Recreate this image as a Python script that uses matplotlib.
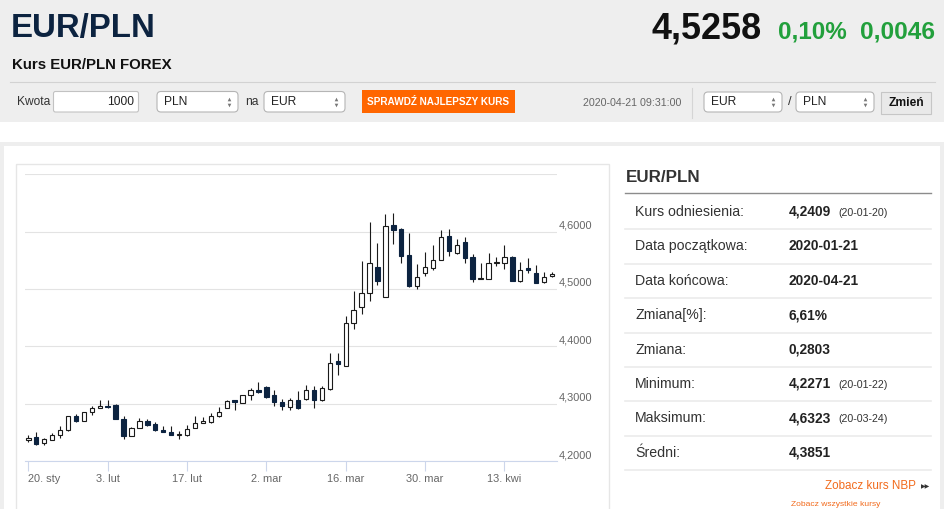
import matplotlib
matplotlib.use("Agg")
import matplotlib.pyplot as plt
import matplotlib.transforms as mtransforms
from matplotlib.patches import Rectangle, FancyBboxPatch
import numpy as np
import pandas as pd

plt.rcParams["font.family"] = ["Liberation Sans", "DejaVu Sans"]

# --- data -----------------------------------------------------------------
dates = pd.bdate_range("2020-01-20", "2020-04-21")

opens = [4.2360, 4.2411, 4.2312, 4.2370, 4.2452, 4.2534, 4.2778, 4.2697, 4.2848, 4.2930,
         4.2965, 4.2983, 4.2732, 4.2440, 4.2574, 4.2691, 4.2644, 4.2545, 4.2499, 4.2455,
         4.2452, 4.2574, 4.2662, 4.2673, 4.2778, 4.2924, 4.3058, 4.3012, 4.3157, 4.3233,
         4.3286, 4.3152, 4.3029, 4.2942, 4.3070, 4.3082, 4.3245, 4.3058, 4.3257, 4.3746,
         4.3653, 4.4399, 4.4691, 4.4936, 4.5384, 4.4866, 4.6113, 4.6043, 4.5589, 4.5052,
         4.5274, 4.5373, 4.5501, 4.5927, 4.5635, 4.5822, 4.5565, 4.5180, 4.5180, 4.5454,
         4.5460, 4.5565, 4.5140, 4.5367, 4.5285, 4.5122, 4.5227]
highs = [4.2452, 4.2499, 4.2400, 4.2487, 4.2604, 4.2790, 4.2825, 4.2860, 4.2965, 4.3070,
         4.3058, 4.2994, 4.2778, 4.2592, 4.2749, 4.2732, 4.2673, 4.2615, 4.2615, 4.2516,
         4.2633, 4.2778, 4.2767, 4.2837, 4.2942, 4.3070, 4.3070, 4.3157, 4.3274, 4.3379,
         4.3303, 4.3245, 4.3082, 4.3099, 4.3216, 4.3332, 4.3303, 4.3303, 4.3886, 4.3886,
         4.4527, 4.4965, 4.5490, 4.6171, 4.5798, 4.6300, 4.6323, 4.6055, 4.5973, 4.5431,
         4.5647, 4.5763, 4.6032, 4.6043, 4.5868, 4.5903, 4.5606, 4.5460, 4.5624, 4.5565,
         4.5763, 4.5577, 4.5472, 4.5542, 4.5414, 4.5297, 4.5297]
lows = [4.2340, 4.2283, 4.2271, 4.2359, 4.2394, 4.2530, 4.2673, 4.2690, 4.2802, 4.2924,
        4.2918, 4.2730, 4.2382, 4.2429, 4.2569, 4.2615, 4.2516, 4.2504, 4.2452, 4.2388,
        4.2440, 4.2569, 4.2662, 4.2662, 4.2767, 4.2918, 4.2895, 4.3006, 4.3070, 4.3187,
        4.3099, 4.2953, 4.2883, 4.2895, 4.2913, 4.3070, 4.2924, 4.3047, 4.3245, 4.3507,
        4.3650, 4.4294, 4.4557, 4.4790, 4.5064, 4.4866, 4.5781, 4.5460, 4.5040, 4.5006,
        4.5227, 4.5332, 4.5500, 4.5577, 4.5606, 4.5449, 4.5122, 4.5178, 4.5180, 4.5402,
        4.5344, 4.5140, 4.5128, 4.5285, 4.5110, 4.5110, 4.5215]
closes = [4.2409, 4.2300, 4.2382, 4.2458, 4.2545, 4.2778, 4.2697, 4.2848, 4.2930, 4.2965,
          4.2948, 4.2732, 4.2440, 4.2580, 4.2691, 4.2621, 4.2545, 4.2510, 4.2458, 4.2460,
          4.2563, 4.2662, 4.2703, 4.2778, 4.2848, 4.3047, 4.3029, 4.3146, 4.3233, 4.3198,
          4.3111, 4.3023, 4.2953, 4.3058, 4.2924, 4.3245, 4.3058, 4.3274, 4.3711, 4.3688,
          4.4399, 4.4632, 4.4936, 4.5460, 4.5140, 4.6090, 4.6032, 4.5577, 4.5052, 4.5215,
          4.5390, 4.5501, 4.5915, 4.5670, 4.5775, 4.5548, 4.5180, 4.5186, 4.5449, 4.5460,
          4.5565, 4.5140, 4.5332, 4.5332, 4.5110, 4.5212, 4.5258]

tick_dates = ["2020-01-20", "2020-02-03", "2020-02-17", "2020-03-02",
              "2020-03-16", "2020-03-30", "2020-04-13"]
tick_labels = ["20. sty", "3. lut", "17. lut", "2. mar", "16. mar", "30. mar", "13. kwi"]
y_ticks = [4.2, 4.3, 4.4, 4.5, 4.6, 4.7]

pair = "EUR/PLN"
last_price = "4,5258"
change_pct = "0,10%"
change_abs = "0,0046"
timestamp = "2020-04-21 09:31:00"

stat_labels = ["Kurs odniesienia:", "Data początkowa:", "Data końcowa:", "Zmiana[%]:",
               "Zmiana:", "Minimum:", "Maksimum:", "Średni:"]
stat_values = ["4,2409", "2020-01-21", "2020-04-21", "6,61%",
               "0,2803", "4,2271", "4,6323", "4,3851"]
stat_notes = ["(20-01-20)", "", "", "", "", "(20-01-22)", "(20-03-24)", ""]

W, H = 945, 509
NAVY = "#0c2340"
ORANGE = "#ff6600"
GREEN = "#22a03c"

fig = plt.figure(figsize=(W / 100, H / 100), dpi=100, facecolor="white")

# --- page background (pixel coordinates) -----------------------------------
bg = fig.add_axes([0, 0, 1, 1])
bg.set_xlim(0, W)
bg.set_ylim(H, 0)
bg.axis("off")


def px(size):
    return size * 0.72


def txt(x, y, s, size, **kw):
    kw.setdefault("va", "center")
    kw.setdefault("color", "#333333")
    bg.text(x, y, s, fontsize=px(size), **kw)


def select_box(x, y, w, h, label):
    bg.add_patch(FancyBboxPatch((x, y), w, h, boxstyle="round,pad=0,rounding_size=4",
                                facecolor="white", edgecolor="#b5b5b5", lw=0.8))
    txt(x + 7, y + h / 2, label, 12, color="#222222")
    bg.plot([x + w - 9], [y + h / 2 - 3], marker="^", ms=2.6, color="#777777", mew=0)
    bg.plot([x + w - 9], [y + h / 2 + 3], marker="v", ms=2.6, color="#777777", mew=0)


bg.add_patch(Rectangle((0, 0), W, 121.5, facecolor="#eeeeee", lw=0))
bg.add_patch(Rectangle((0, 141.5), W, 4, facecolor="#eeeeee", lw=0))
bg.add_patch(Rectangle((0, 141.5), 3.5, H, facecolor="#eeeeee", lw=0))
bg.add_patch(Rectangle((940, 141.5), 5, H, facecolor="#eeeeee", lw=0))
bg.plot([10, 935], [81.5, 81.5], color="#d2d2d2", lw=0.8)

# header
txt(11, 28, pair, 33, color=NAVY, weight="bold")
txt(762, 29, last_price, 36, color="#111111", weight="bold", ha="right")
txt(778, 32, change_pct, 24.3, color=GREEN, weight="bold")
txt(935, 32, change_abs, 24.5, color=GREEN, weight="bold", ha="right")
txt(12, 65, "Kurs EUR/PLN FOREX", 15, color="#111111", weight="bold")

# converter form
txt(17, 102, "Kwota", 12)
bg.add_patch(FancyBboxPatch((53.5, 91.5), 85, 20.5, boxstyle="round,pad=0,rounding_size=2",
                            facecolor="white", edgecolor="#c2c2c2", lw=0.8))
txt(134, 102, "1000", 12, ha="right", color="#222222")
select_box(157, 91.5, 81, 20.5, "PLN")
txt(245, 102, "na", 12)
select_box(264, 91.5, 81, 20.5, "EUR")
bg.add_patch(Rectangle((362, 90), 153, 23, facecolor=ORANGE, lw=0))
txt(438.5, 102, "SPRAWDŹ NAJLEPSZY KURS", 10, color="white", weight="bold", ha="center")
txt(583, 103, timestamp, 10.6, color="#666666")
bg.plot([691.7, 691.7], [88, 118], color="#d5d5d5", lw=0.8)
select_box(704, 92, 78, 20, "EUR")
txt(790, 102, "/", 13, ha="center")
select_box(796, 92, 78, 20, "PLN")
bg.add_patch(Rectangle((881, 92), 50, 22, facecolor="#e9e9e9", edgecolor="#c6c6c6", lw=0.8))
txt(906, 103, "Zmień", 12, color="#111111", weight="bold", ha="center")

# chart frame
bg.add_patch(Rectangle((15.5, 163.5), 593, 360, facecolor="none", edgecolor="#e6e6e6", lw=1))

# stats panel
txt(625.7, 177, pair, 17, weight="bold", color="#333333")
bg.plot([625, 931], [193.3, 193.3], color="#8c8c8c", lw=1.0)
row_h = 34.4
for i, (lab, val, note) in enumerate(zip(stat_labels, stat_values, stat_notes)):
    yc = 212 + i * row_h
    txt(635, yc, lab, 14.1)
    txt(788.3, yc, val, 13.8, weight="bold", color="#222222")
    if note:
        txt(838.7, yc + 1, note, 10.6)
    bg.plot([625, 931], [yc + 17.3, yc + 17.3], color="#ebebeb", lw=1.2)
txt(916, 486, "Zobacz kurs NBP", 11.6, color="#f26b1d", ha="right")
txt(921, 486.5, "▶▶", 6, color="#333333")
txt(880, 508.5, "Zobacz wszystkie kursy", 8.5, color="#f26b1d", ha="right", va="bottom")

# --- candlestick chart -----------------------------------------------------
ax_l, ax_r, ax_t, ax_b = 25, 556.7, 174.3, 461
ax = fig.add_axes([ax_l / W, (H - ax_b) / H, (ax_r - ax_l) / W, (ax_b - ax_t) / H])
ax.patch.set_alpha(0)

o = np.array(opens)
h = np.array(highs)
l = np.array(lows)
c = np.array(closes)
x = np.arange(len(dates))
up = c >= o

ax.vlines(x, l, h, color="#1a1a1a", lw=0.8, zorder=2)
bottom = np.minimum(o, c)
height = np.maximum(np.abs(c - o), 0.0012)
ax.bar(x[up], height[up], bottom=bottom[up], width=0.55, facecolor="white",
       edgecolor="#1a1a1a", lw=0.8, zorder=3)
ax.bar(x[~up], height[~up], bottom=bottom[~up], width=0.55, facecolor=NAVY,
       edgecolor=NAVY, lw=0.8, zorder=3)

ax.set_ylim(4.2, 4.7)
ax.set_xlim(-0.42, len(dates) - 1 + 0.59)
ax.set_yticks(y_ticks)
ax.yaxis.grid(True, color="#e3e3e3", lw=0.8)
ax.set_axisbelow(True)
ax.tick_params(axis="y", length=0, labelleft=False)
for s in ["top", "right", "left"]:
    ax.spines[s].set_visible(False)
ax.spines["bottom"].set_color("#ccd6eb")
ax.spines["bottom"].set_linewidth(0.8)

tick_pos = [dates.get_loc(pd.Timestamp(d)) for d in tick_dates]
ax.set_xticks(tick_pos)
ax.set_xticklabels(tick_labels)
ax.tick_params(axis="x", direction="out", length=7, width=0.8, color="#ccd6eb",
               labelcolor="#666666", labelsize=px(11), pad=2)
ax.get_xticklabels()[0].set_horizontalalignment("left")

trans = mtransforms.blended_transform_factory(ax.transAxes, ax.transData)
trans = mtransforms.offset_copy(trans, fig=fig, x=2, y=6, units="dots")
for v in y_ticks[:-1]:
    ax.text(1.0, v, f"{v:.4f}".replace(".", ","), transform=trans, fontsize=px(11),
            color="#666666", ha="left", va="center", clip_on=False)

fig.savefig("out.png", dpi=100)
